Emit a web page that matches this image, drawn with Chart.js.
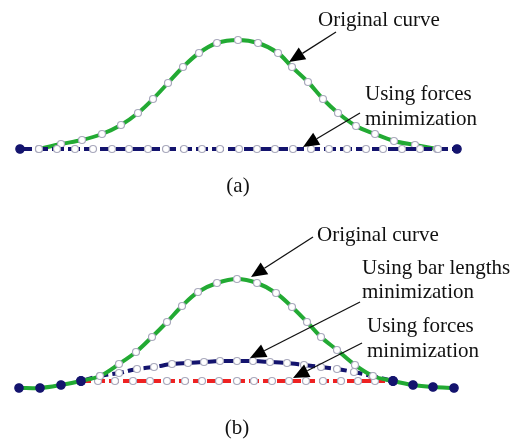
<!DOCTYPE html>
<html>
<head>
<meta charset="utf-8">
<script src="https://cdn.jsdelivr.net/npm/chart.js@4.4.1/dist/chart.umd.min.js"></script>
<style>
  body { margin: 0; background: #fff; }
  canvas { display: block; }
</style>
</head>
<body>
<canvas id="panelA" width="516" height="220"></canvas>
<canvas id="panelB" width="516" height="221"></canvas>
<script>
// panel (a): original curve and the flat result of forces minimization
const curveAX = [39, 61, 82, 102, 121, 138, 153, 168, 183, 199, 217, 238, 258, 278, 292, 308, 323, 338, 356, 375, 394, 415, 437];
const curveAY = [0, 5, 9, 15, 24, 36, 50, 66, 82, 96, 106, 109, 106, 96, 82, 67, 50, 36, 23, 15, 8, 4, 0];
const forcesAX = [20, 39, 57, 75, 93, 112, 129, 148, 166, 184, 202, 220, 239, 257, 275, 293, 311, 329, 347, 366, 383, 402, 420, 438, 457];
const forcesAY = [0, 0, 0, 0, 0, 0, 0, 0, 0, 0, 0, 0, 0, 0, 0, 0, 0, 0, 0, 0, 0, 0, 0, 0, 0];

// panel (b): original curve, bar lengths minimization, forces minimization
const curveBX = [19, 40, 61, 81, 100, 119, 136, 152, 167, 182, 198, 217, 237, 257, 276, 292, 307, 321, 337, 355, 373, 393, 413, 433, 454];
const curveBY = [0, 0, 3, 7, 12, 24, 36, 51, 66, 82, 96, 105, 109, 105, 95, 81, 66, 51, 38, 23, 12, 7, 3, 1, 0];
const barsBX = [81, 100, 119, 137, 154, 172, 188, 204, 220, 237, 253, 270, 287, 304, 321, 337, 354, 372, 393];
const barsBY = [7, 12, 15, 19, 21, 24, 25, 26, 27, 27, 27, 26, 25, 23, 21, 19, 16, 12, 7];
const forcesBX = [81, 98, 115, 133, 150, 167, 185, 202, 219, 237, 254, 272, 289, 306, 323, 341, 358, 375, 393];
const forcesBY = [7, 7, 7, 7, 7, 7, 7, 7, 7, 7, 7, 7, 7, 7, 7, 7, 7, 7, 7];

const GREEN = '#22aa33';
const NAVY = '#14146e';
const RED = '#ee2222';
const FONT = '21px "Liberation Serif", "Times New Roman", serif';

function pts(xs, ys) {
  return xs.map((x, i) => ({ x: x, y: ys[i] }));
}

// fixed end nodes are dark, free nodes are small white circles
function nodeFill(n, fixed) {
  return Array.from({ length: n }, (_, i) => (i < fixed || i >= n - fixed) ? NAVY : '#ffffff');
}
function nodeRadius(n, fixed) {
  return Array.from({ length: n }, (_, i) => (i < fixed || i >= n - fixed) ? 4.2 : 3.5);
}
function nodeBorder(n, fixed) {
  return Array.from({ length: n }, (_, i) => (i < fixed || i >= n - fixed) ? NAVY : '#a8a8bc');
}

function lineSet(xs, ys, color, dash, fixed, tension) {
  const n = xs.length;
  return {
    data: pts(xs, ys),
    showLine: true,
    borderColor: color,
    borderWidth: 4,
    borderDash: dash,
    tension: tension,
    pointRadius: nodeRadius(n, fixed),
    pointBackgroundColor: nodeFill(n, fixed),
    pointBorderColor: nodeBorder(n, fixed),
    pointBorderWidth: 1.2,
    clip: false,
  };
}

// text labels and arrows, given in canvas pixels
function drawArrow(ctx, x1, y1, x2, y2) {
  const ang = Math.atan2(y2 - y1, x2 - x1);
  const len = 16, half = 7;
  const bx = x2 - len * Math.cos(ang), by = y2 - len * Math.sin(ang);
  ctx.strokeStyle = '#111';
  ctx.lineWidth = 1.3;
  ctx.beginPath();
  ctx.moveTo(x1, y1);
  ctx.lineTo(bx, by);
  ctx.stroke();
  ctx.fillStyle = '#000';
  ctx.beginPath();
  ctx.moveTo(x2, y2);
  ctx.lineTo(bx + half * Math.sin(ang), by - half * Math.cos(ang));
  ctx.lineTo(bx - half * Math.sin(ang), by + half * Math.cos(ang));
  ctx.closePath();
  ctx.fill();
}

const notes = {
  id: 'notes',
  afterDatasetsDraw(chart, args, opts) {
    const ctx = chart.ctx;
    ctx.save();
    ctx.font = FONT;
    ctx.fillStyle = '#111';
    ctx.textBaseline = 'alphabetic';
    opts.labels.forEach(l => {
      ctx.textAlign = l.align || 'left';
      ctx.fillText(l.text, l.x, l.y);
    });
    opts.arrows.forEach(a => drawArrow(ctx, a[0], a[1], a[2], a[3]));
    ctx.restore();
  }
};

function makeChart(id, datasets, yMin, yMax, noteOpts) {
  return new Chart(document.getElementById(id), {
    type: 'scatter',
    data: { datasets: datasets },
    options: {
      responsive: false,
      animation: false,
      layout: { padding: 0, autoPadding: false },
      scales: {
        x: { type: 'linear', min: 0, max: 516, display: false },
        y: { type: 'linear', min: yMin, max: yMax, display: false },
      },
      plugins: {
        legend: { display: false },
        tooltip: { enabled: false },
        notes: noteOpts,
      },
    },
    plugins: [notes],
  });
}

makeChart('panelA', [
  lineSet(forcesAX, forcesAY, NAVY, [12, 4], 1, 0),
  lineSet(curveAX, curveAY, GREEN, [], 0, 0.35),
], -71, 149, {
  labels: [
    { text: 'Original curve', x: 318, y: 26 },
    { text: 'Using forces', x: 365, y: 100 },
    { text: 'minimization', x: 365, y: 125 },
    { text: '(a)', x: 238, y: 192, align: 'center' },
  ],
  arrows: [
    [336, 32, 289, 62],
    [360, 113, 303, 147],
  ],
});

makeChart('panelB', [
  lineSet(curveBX, curveBY, GREEN, [], 4, 0.35),
  lineSet(forcesBX, forcesBY, RED, [10, 4], 1, 0),
  lineSet(barsBX, barsBY, NAVY, [12, 4], 1, 0.3),
], -53, 168, {
  labels: [
    { text: 'Original curve', x: 317, y: 21 },
    { text: 'Using bar lengths', x: 362, y: 54 },
    { text: 'minimization', x: 362, y: 78 },
    { text: 'Using forces', x: 367, y: 112 },
    { text: 'minimization', x: 367, y: 137 },
    { text: '(b)', x: 237, y: 214, align: 'center' },
  ],
  arrows: [
    [313, 17, 251, 57],
    [360, 82, 250, 138],
    [362, 123, 293, 158],
  ],
});
</script>
</body>
</html>
